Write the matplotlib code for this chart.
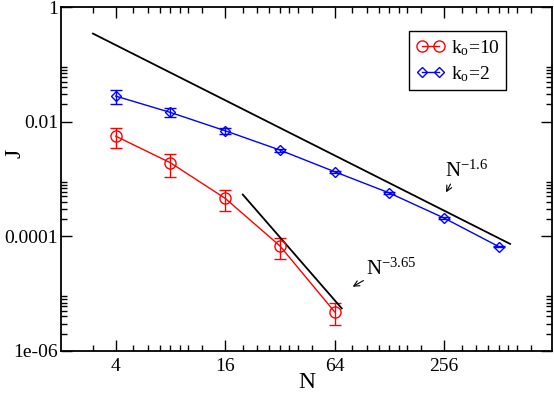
import numpy as np
import matplotlib.pyplot as plt
from matplotlib.lines import Line2D
from matplotlib.ticker import FixedLocator, NullFormatter

plt.rcParams["font.family"] = ["Liberation Serif", "DejaVu Serif"]
plt.rcParams["mathtext.fontset"] = "custom"
plt.rcParams["mathtext.rm"] = "Liberation Serif"
plt.rcParams["mathtext.it"] = "Liberation Serif:italic"

# Data
N_red = [4, 8, 16, 32, 64]
J_red = [5.6e-3, 1.92e-3, 4.6e-4, 6.8e-5, 4.8e-6]
err_red = [2.1e-3, 8.3e-4, 1.8e-4, 2.7e-5, 2.0e-6]

N_blue = [4, 8, 16, 32, 64, 128, 256, 512]
J_blue = [2.8e-2, 1.45e-2, 6.95e-3, 3.2e-3, 1.34e-3, 5.7e-4, 2.08e-4, 6.6e-5]
err_blue = [7.5e-3, 2.5e-3, 9e-4, 2e-4, 6e-5, 2e-5, 8e-6, 2e-6]

# Power-law guide lines: prefactor, exponent, N range
fit1_A, fit1_exp, fit1_N = 2.0, -1.6, [3, 590]
fit2_A, fit2_exp, fit2_N = 30.0, -3.65, [20, 70]

x_major = [4, 16, 64, 256]
x_labels = ["4", "16", "64", "256"]
y_major = [1e-6, 1e-4, 1e-2, 1]
y_labels = ["1e-06", "0.0001", "0.01", "1"]

fig = plt.figure(figsize=(5.54, 3.93), dpi=100)
ax = fig.add_axes([0.110, 0.107, 0.886, 0.875])

red_style = dict(color="red", marker="o", ms=8, mfc="none", mew=1.0, lw=1.0)
blue_style = dict(color="blue", marker="D", ms=5, mfc="none", mew=1.0, lw=1.0)

ax.errorbar(N_red, J_red, yerr=err_red, capsize=4.5, elinewidth=1.0, **red_style)
ax.errorbar(N_blue, J_blue, yerr=err_blue, capsize=4, elinewidth=1.0, **blue_style)

for A, p, rng in [(fit1_A, fit1_exp, fit1_N), (fit2_A, fit2_exp, fit2_N)]:
    xs = np.array(rng, dtype=float)
    ax.plot(xs, A * xs ** p, color="black", lw=1.3)

ax.set_xscale("log", base=2)
ax.set_yscale("log")
ax.set_xlim(2, 1000)
ax.set_ylim(1e-6, 1)

ax.set_xticks(x_major, x_labels)
x_minor = [3] + [m * f for m in x_major for f in [1.25, 1.5, 1.75, 2, 2.25, 2.5, 3]]
ax.xaxis.set_minor_locator(FixedLocator(x_minor))
ax.xaxis.set_minor_formatter(NullFormatter())

ax.set_yticks(y_major, y_labels)
y_minor = [m * k for m in [1e-6, 1e-4, 1e-2] for k in range(2, 10)]
ax.yaxis.set_minor_locator(FixedLocator(y_minor))
ax.yaxis.set_minor_formatter(NullFormatter())

ax.tick_params(which="both", direction="in", top=True, right=True, labelsize=14, width=1.0)
ax.tick_params(which="major", length=8)
ax.tick_params(axis="x", which="major", pad=5)
ax.tick_params(axis="y", which="major", pad=2)
ax.tick_params(which="minor", length=4.5)
for s in ax.spines.values():
    s.set_linewidth(1.3)

ax.set_xlabel("N", fontsize=17, labelpad=-2)
ax.set_ylabel("J", fontsize=17)
ax.yaxis.set_label_coords(-0.072, 0.576)

ax.annotate("", xy=(258, 5.3e-4), xytext=(282, 9.0e-4),
            arrowprops=dict(arrowstyle="->", color="black", lw=0.8))
ax.text(259, 1.09e-3, r"N$^{-1.6}$", fontsize=15, ha="left", va="baseline")
ax.annotate("", xy=(78, 1.25e-5), xytext=(95, 1.79e-5),
            arrowprops=dict(arrowstyle="->", color="black", lw=0.8))
ax.text(95, 2.13e-5, r"N$^{-3.65}$", fontsize=15, ha="left", va="baseline")

handles = [Line2D([], [], **red_style), Line2D([], [], **blue_style)]
labels = [r"k$_{\rm o}$=10", r"k$_{\rm o}$=2"]
leg = ax.legend(handles, labels, loc="upper left", bbox_to_anchor=(0.709, 0.929),
                fontsize=14, numpoints=2, handlelength=1.5, handletextpad=0.3,
                borderaxespad=0, borderpad=0.35, labelspacing=0.3,
                fancybox=False, framealpha=1, edgecolor="black")
leg.get_frame().set_linewidth(1.0)

fig.savefig("out.png", dpi=100)
